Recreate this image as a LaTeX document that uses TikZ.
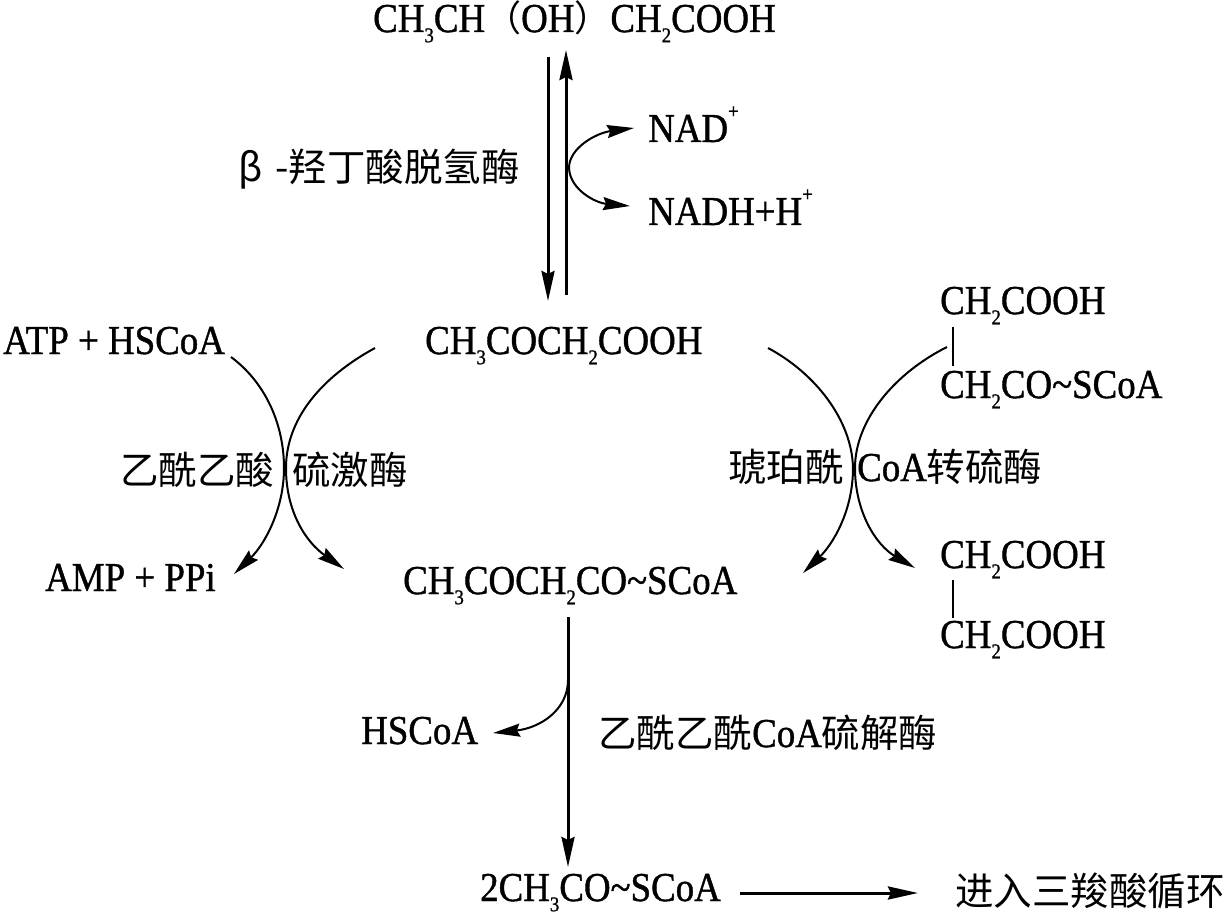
\documentclass[tikz,border=0pt]{standalone}
\usepackage{fontspec}
\setmainfont{Liberation Serif}[FakeStretch=0.9,FakeBold=1]
\newfontfamily\cjk{Noto Sans CJK SC}
\usetikzlibrary{arrows.meta}
\newcommand\chsub[1]{\raisebox{-0.25em}{\fontsize{21}{21}\selectfont #1}}
\newcommand\chsup[1]{\raisebox{0.58em}{\fontsize{21}{21}\selectfont #1}}
\begin{document}
\begin{tikzpicture}[x=1pt,y=-1pt,
 lbl/.style={inner sep=0pt, anchor=base west, font=\fontsize{41}{44}\selectfont},
 zh/.style={inner sep=0pt, anchor=base west, font=\fontsize{38.5}{40}\selectfont\cjk},
 arr/.style={line width=3pt, -{Stealth[length=30pt,width=13pt,inset=3pt]}},
 carr/.style={line width=2pt, -{Stealth[length=27pt,width=13pt,inset=3pt]}},
 bar/.style={line width=1.6pt}]
\useasboundingbox (0,0) rectangle (1227,915);
% texts
\node[lbl] (bhb) at (373,32) {CH\chsub{3}CH{\cjk\fontsize{36}{38}\selectfont（}OH{\cjk\fontsize{36}{38}\selectfont）}CH\chsub{2}COOH};
\node[zh] (e1) at (238,182) {β\,\,-羟丁酸脱氢酶};
\node[lbl] (nad) at (648,142) {NAD\chsup{+}};
\node[lbl] (nadh) at (648,225) {NADH+H\chsup{+}};
\node[lbl] (aca) at (425,354) {CH\chsub{3}COCH\chsub{2}COOH};
\node[lbl] (atp) at (3,354) {ATP + HSCoA};
\node[lbl] (amp) at (45,591) {AMP + PPi};
\node[lbl] (acacoa) at (403,594) {CH\chsub{3}COCH\chsub{2}CO\textasciitilde SCoA};
\node[zh] (e2a) at (120,484) {乙酰乙酸};
\node[zh] (e2b) at (292,484) {硫激酶};
\node[lbl] (suc1) at (940,314) {CH\chsub{2}COOH};
\node[lbl] (suc2) at (940,398) {CH\chsub{2}CO\textasciitilde SCoA};
\node[zh] (e3a) at (728,481) {琥珀酰};
\node[zh] (e3b) at (857,481) {\fontsize{41}{44}\rmfamily CoA\cjk\fontsize{38.5}{40}\selectfont 转硫酶};
\node[lbl] (sa1) at (940,568) {CH\chsub{2}COOH};
\node[lbl] (sa2) at (940,648) {CH\chsub{2}COOH};
\node[lbl] (hscoa) at (361,744) {HSCoA};
\node[zh] (e4) at (598,747) {乙酰乙酰{\fontsize{41}{44}\rmfamily CoA}硫解酶};
\node[lbl] (accoa) at (480,901) {2CH\chsub{3}CO\textasciitilde SCoA};
\node[zh] (tca) at (955,905) {进入三羧酸循环};
% coordinates
\coordinate (d1) at (548,57); \coordinate (d2) at (548,301);
\coordinate (u1) at (566,295); \coordinate (u2) at (566,50);
\coordinate (nv) at (569,168);
\coordinate (nadt) at (634,128); \coordinate (nadht) at (630,206);
\coordinate (c1s) at (231,357); \coordinate (c1m) at (284,468); \coordinate (c1e) at (234,574);
\coordinate (c2s) at (375,348); \coordinate (c2m) at (286,468); \coordinate (c2e) at (344,569);
\coordinate (c3s) at (768,348); \coordinate (c3m) at (853,468); \coordinate (c3e) at (803,573);
\coordinate (c4s) at (947,347); \coordinate (c4m) at (855,468); \coordinate (c4e) at (915,568);
\coordinate (m1) at (568,617); \coordinate (m2) at (568,867); \coordinate (mb) at (568,680);
\coordinate (hst) at (493,733);
\coordinate (t1) at (740,893); \coordinate (t2) at (918,893);
\coordinate (b1) at (953,327); \coordinate (b2) at (953,366);
\coordinate (b3) at (953,580); \coordinate (b4) at (953,618);
% arrows
\draw[arr] (d1) -- (d2);
\draw[arr] (u1) -- (u2);
\draw[carr] (nv) .. controls (569,148) and (596,133) .. (nadt);
\draw[carr] (nv) .. controls (570,190) and (596,203) .. (nadht);
\draw[carr] (c1s) .. controls (266,383) and (284,425) .. (c1m) .. controls (284,510) and (264,545) .. (c1e);
\draw[carr] (c2s) .. controls (320,378) and (286,420) .. (c2m) .. controls (286,512) and (306,542) .. (c2e);
\draw[carr] (c3s) .. controls (815,373) and (852,420) .. (c3m) .. controls (853,512) and (832,545) .. (c3e);
\draw[carr] (c4s) .. controls (895,373) and (855,420) .. (c4m) .. controls (855,512) and (876,545) .. (c4e);
\draw[arr] (m1) -- (m2);
\draw[carr] (mb) .. controls (568,710) and (540,728) .. (hst);
\draw[arr] (t1) -- (t2);
\draw[bar] (b1) -- (b2);
\draw[bar] (b3) -- (b4);
\end{tikzpicture}
\end{document}
